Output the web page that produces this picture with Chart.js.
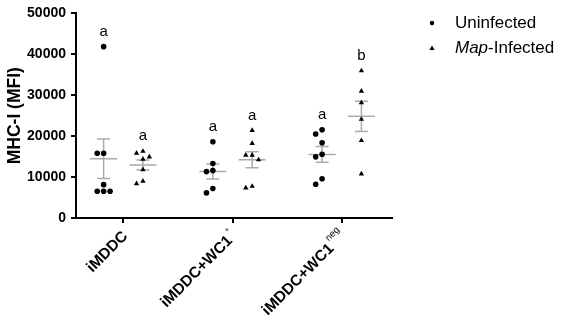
<!DOCTYPE html>
<html>
<head>
<meta charset="utf-8">
<script src="https://cdn.jsdelivr.net/npm/chart.js@4.4.1/dist/chart.umd.min.js"></script>
<style>html,body{margin:0;padding:0;background:#fff}</style>
</head>
<body>
<canvas id="c" width="561" height="323"></canvas>
<script>
// groups on the x axis, superscript part of each label
const groups = ['iMDDC', 'iMDDC+WC1', 'iMDDC+WC1'];
const groupSup = ['', '+', 'neg'];
// MHC-I MFI per animal
const uninfected = [
  [41870, 15830, 15830, 8150, 6550, 6550, 6550],
  [18610, 13330, 11580, 11340, 7190, 6140],
  [21580, 20530, 18370, 15590, 14940, 9590, 8230]
];
const mapInfected = [
  [16310, 15830, 14940, 14390, 11820, 9020, 8390],
  [21410, 18230, 15350, 15350, 14220, 7750, 7340],
  [35970, 31010, 28200, 24120, 18940, 10790]
];
// significance letters [uninfected, infected]
const letters = [['a', 'a'], ['a', 'a'], ['a', 'b']];
const yTicks = [0, 10000, 20000, 30000, 40000, 50000];

const FONT = '"Liberation Sans", Arial, sans-serif';
const OFF = 0.18;
const series = [uninfected, mapInfected];

function mk(arr, side) {
  return arr.flatMap((vals, i) => vals.map(v => ({x: i + side * OFF, y: v, cx: i + side * OFF, g: i})));
}
function meanSem(a) {
  const m = a.reduce((s, v) => s + v, 0) / a.length;
  const sd = Math.sqrt(a.reduce((s, v) => s + (v - m) * (v - m), 0) / (a.length - 1));
  return [m, sd / Math.sqrt(a.length)];
}

const overlay = {
  id: 'overlay',
  beforeDatasetsDraw(chart) {
    const c = chart.ctx, xs = chart.scales.x, ys = chart.scales.y;
    c.save();
    c.strokeStyle = '#ababab';
    c.lineWidth = 1.5;
    series.forEach((arr, s) => {
      arr.forEach((vals, i) => {
        const [m, se] = meanSem(vals);
        const x = xs.getPixelForValue(i + (s ? 1 : -1) * OFF);
        const ym = ys.getPixelForValue(m), y1 = ys.getPixelForValue(m + se), y0 = ys.getPixelForValue(m - se);
        c.beginPath();
        c.moveTo(x - 13.5, ym); c.lineTo(x + 13.5, ym);
        c.moveTo(x - 6.5, y1); c.lineTo(x + 6.5, y1);
        c.moveTo(x - 6.5, y0); c.lineTo(x + 6.5, y0);
        c.moveTo(x, y1); c.lineTo(x, y0);
        c.stroke();
      });
    });
    c.restore();
  },
  afterDraw(chart) {
    const c = chart.ctx, xs = chart.scales.x, ys = chart.scales.y;
    c.save();
    c.fillStyle = '#000';
    // letters above each column
    c.font = '15px ' + FONT;
    c.textAlign = 'center';
    c.textBaseline = 'middle';
    series.forEach((arr, s) => {
      arr.forEach((vals, i) => {
        const x = xs.getPixelForValue(i + (s ? 1 : -1) * OFF);
        const y = ys.getPixelForValue(Math.max(...vals));
        c.fillText(letters[i][s], x, y - 15);
      });
    });
    // rotated category labels with superscripts
    const axisY = chart.chartArea.bottom;
    groups.forEach((g, i) => {
      const tx = xs.getPixelForValue(i);
      c.save();
      c.translate(tx + 2, axisY + 16);
      c.rotate(-Math.PI / 4);
      c.textBaseline = 'middle';
      let supW = 0;
      if (groupSup[i]) {
        c.font = (groupSup[i] === '+' ? '8px ' : '9.5px ') + FONT;
        supW = c.measureText(groupSup[i]).width;
        c.textAlign = 'left';
        c.fillText(groupSup[i], -supW, -8);
        supW += 1.5;
      }
      c.textAlign = 'right';
      c.font = 'bold 15.5px ' + FONT;
      c.fillText(g, -supW, 0);
      c.restore();
    });
    // legend
    c.textAlign = 'left';
    c.textBaseline = 'middle';
    c.beginPath();
    c.arc(432, 23, 2.2, 0, Math.PI * 2);
    c.fill();
    c.beginPath();
    c.moveTo(432, 45.5); c.lineTo(434.6, 50); c.lineTo(429.4, 50); c.closePath();
    c.fill();
    c.font = '17px ' + FONT;
    c.fillText('Uninfected', 455, 23);
    c.font = 'italic 17px ' + FONT;
    c.fillText('Map', 455, 48);
    const w = c.measureText('Map').width;
    c.font = '17px ' + FONT;
    c.fillText('-Infected', 455 + w, 48);
    c.restore();
  }
};

// spread overlapping points sideways, like a dot plot
function swarm(chart) {
  const xs = chart.scales.x, ys = chart.scales.y, d = 6.4;
  chart.data.datasets.forEach(ds => {
    const byGroup = {};
    ds.data.forEach(p => { (byGroup[p.g] = byGroup[p.g] || []).push(p); });
    Object.values(byGroup).forEach(pts => {
      const placed = [];
      pts.slice().sort((a, b) => b.y - a.y).forEach(p => {
        const cx = xs.getPixelForValue(p.cx), py = ys.getPixelForValue(p.y);
        for (let k = 0; k < 20; k++) {
          const off = k === 0 ? 0 : (k % 2 ? -1 : 1) * Math.ceil(k / 2) * d;
          const px = cx + off;
          if (placed.every(q => Math.hypot(q[0] - px, q[1] - py) >= d - 0.01)) {
            placed.push([px, py]);
            p.x = xs.getValueForPixel(px);
            break;
          }
        }
      });
    });
  });
  chart.update('none');
}

const axisGrid = {drawOnChartArea: false, drawTicks: true, tickLength: 5, color: '#000', lineWidth: 2};
const axisBorder = {color: '#000', width: 2};

const chart = new Chart(document.getElementById('c').getContext('2d'), {
  type: 'scatter',
  data: {
    datasets: [
      {label: 'Uninfected', data: mk(uninfected, -1), pointStyle: 'circle', pointRadius: 2.8,
       backgroundColor: '#000', borderColor: '#000', borderWidth: 0},
      {label: 'Map-Infected', data: mk(mapInfected, 1), pointStyle: 'triangle', pointRadius: 3.1,
       backgroundColor: '#000', borderColor: '#000', borderWidth: 0}
    ]
  },
  options: {
    responsive: false,
    animation: false,
    events: [],
    layout: {padding: {top: 10, right: 169, left: 0, bottom: 0}},
    plugins: {legend: {display: false}, tooltip: {enabled: false}},
    scales: {
      x: {
        type: 'linear', min: -0.433, max: 2.46,
        afterBuildTicks: s => { s.ticks = groups.map((g, i) => ({value: i})); },
        afterFit: s => { s.height = 105; },
        ticks: {display: false},
        grid: axisGrid,
        border: axisBorder
      },
      y: {
        min: 0, max: 50000,
        afterBuildTicks: s => { s.ticks = yTicks.map(v => ({value: v})); },
        afterFit: s => { s.width = 76; },
        ticks: {font: {family: FONT, size: 14, weight: 'bold'}, color: '#000', padding: 5,
                callback: v => String(v)},
        grid: axisGrid,
        border: axisBorder,
        title: {display: true, text: 'MHC-I (MFI)', color: '#000', padding: {top: 4.5, bottom: 0},
                font: {family: FONT, size: 17.5, weight: 'bold'}}
      }
    }
  },
  plugins: [overlay]
});
swarm(chart);
</script>
</body>
</html>
